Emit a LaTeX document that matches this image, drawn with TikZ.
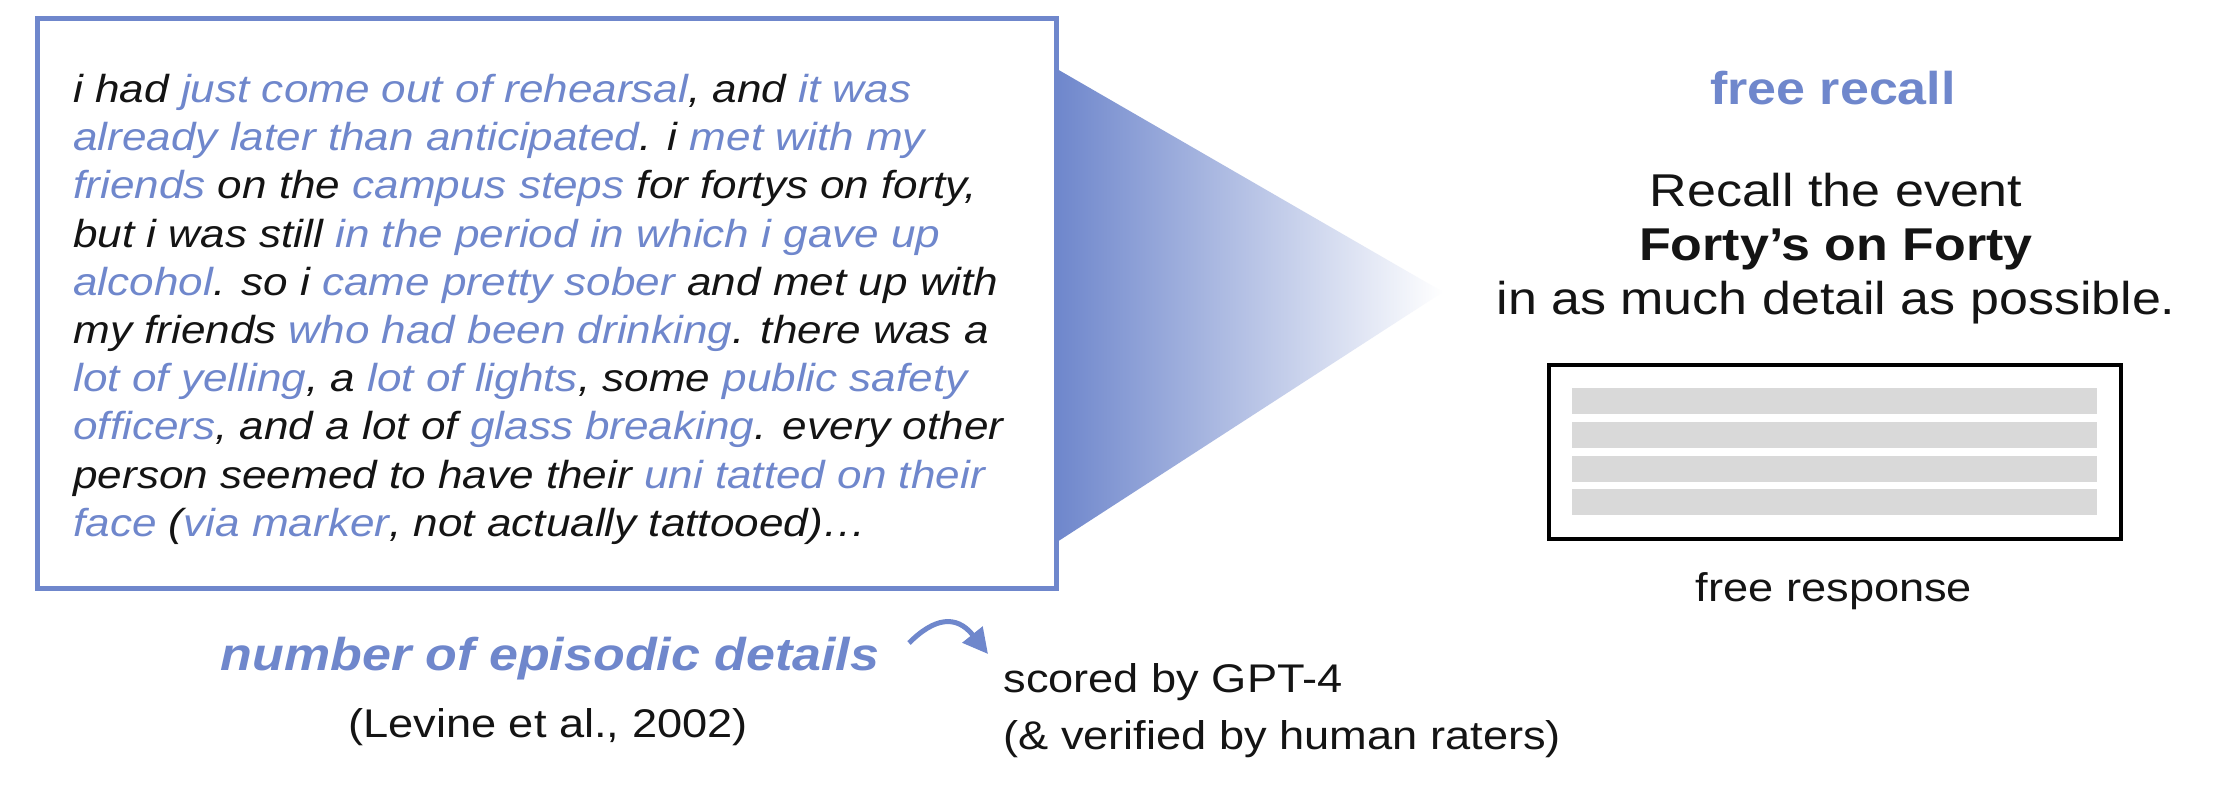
\documentclass[tikz,border=0pt]{standalone}
\usepackage{fontspec}
\setmainfont{Liberation Sans}[FakeStretch=1.13]
\usetikzlibrary{arrows.meta}
\definecolor{epi}{HTML}{6F87CC}
\definecolor{ink}{HTML}{141414}
\definecolor{barfill}{HTML}{D9D9D9}
\newcommand{\ep}[1]{\textcolor{epi}{#1}}
\begin{document}
\begin{tikzpicture}[x=0.5pt,y=-0.5pt,
  storyline/.style={anchor=base west, inner sep=0pt, text=ink, font=\fontsize{19.5pt}{23pt}\selectfont\itshape},
  rtext/.style={anchor=base, inner sep=0pt, text=ink, font=\fontsize{23pt}{27pt}\selectfont},
  stext/.style={anchor=base west, inner sep=0pt, text=ink, font=\fontsize{20pt}{24pt}\selectfont},
  ctext/.style={anchor=base, inner sep=0pt, text=ink, font=\fontsize{20pt}{24pt}\selectfont},
  bluebox/.style={draw=epi, line width=2.5pt, fill=white, inner sep=0pt},
  respbox/.style={draw=black, line width=2.25pt, inner sep=0pt},
  bararrow/.style={draw=epi, line width=2.5pt, -{Triangle[length=12.5pt,width=12.5pt]}}
]
\useasboundingbox (0,0) rectangle (2218,788);
\fill[white] (0,0) rectangle (2218,788);

% gradient wedge
\shade[left color=epi, right color=white] (1057,69) -- (1443,292) -- (1057,542) -- cycle;

% story box
\node[bluebox, minimum width=509.25pt, minimum height=285pt] (story) at (546.75,303) {};

\node[storyline] (l1) at (73,102.5) {i had \ep{just come out of rehearsal}, and \ep{it was}};
\node[storyline] (l2) at (73,150.7) {\ep{already later than anticipated}. i \ep{met with my}};
\node[storyline] (l3) at (73,198.9) {\ep{friends} on the \ep{campus steps} for fortys on forty,};
\node[storyline] (l4) at (73,247.1) {but i was still \ep{in the period in which i gave up}};
\node[storyline] (l5) at (73,295.3) {\ep{alcohol}. so i \ep{came pretty sober} and met up with};
\node[storyline] (l6) at (73,343.5) {my friends \ep{who had been drinking}. there was a};
\node[storyline] (l7) at (73,391.7) {\ep{lot of yelling}, a \ep{lot of lights}, some \ep{public safety}};
\node[storyline] (l8) at (73,439.9) {\ep{officers}, and a lot of \ep{glass breaking}. every other};
\node[storyline] (l9) at (73,488.1) {person seemed to have their \ep{uni tatted on their}};
\node[storyline] (l10) at (73,536.3) {\ep{face} (\ep{via marker}, not actually tattooed)…};

% right side
\node[rtext, text=epi, font=\fontsize{23pt}{27pt}\selectfont\bfseries] (title) at (1833,104) {free recall};
\node[rtext] (r1) at (1836,206) {Recall the event};
\node[rtext, font=\fontsize{23pt}{27pt}\selectfont\bfseries] (r2) at (1836,260) {Forty’s on Forty};
\node[rtext] (r3) at (1836,314) {in as much detail as possible.};

\node[respbox, minimum width=286pt, minimum height=87pt] (resp) at (1835,452) {};
\fill[barfill] (1572,388) rectangle (2097,414);
\fill[barfill] (1572,422) rectangle (2097,448);
\fill[barfill] (1572,456) rectangle (2097,482);
\fill[barfill] (1572,489) rectangle (2097,515);
\node[ctext] (fr) at (1834,601.5) {free response};

% bottom
\node[rtext, text=epi, font=\fontsize{23pt}{27pt}\selectfont\bfseries\itshape] (num) at (550,670) {number of episodic details};
\node[ctext] (lev) at (548,737) {(Levine et al., 2002)};
\node[stext] (sc1) at (1003,692.5) {scored by GPT-4};
\node[stext] (sc2) at (1003,749) {(\& verified by human raters)};

\coordinate (a1) at (909,643);
\coordinate (a2) at (988,654);
\draw[bararrow] (a1) .. controls (934,618) and (956,614) .. (a2);
\end{tikzpicture}
\end{document}
